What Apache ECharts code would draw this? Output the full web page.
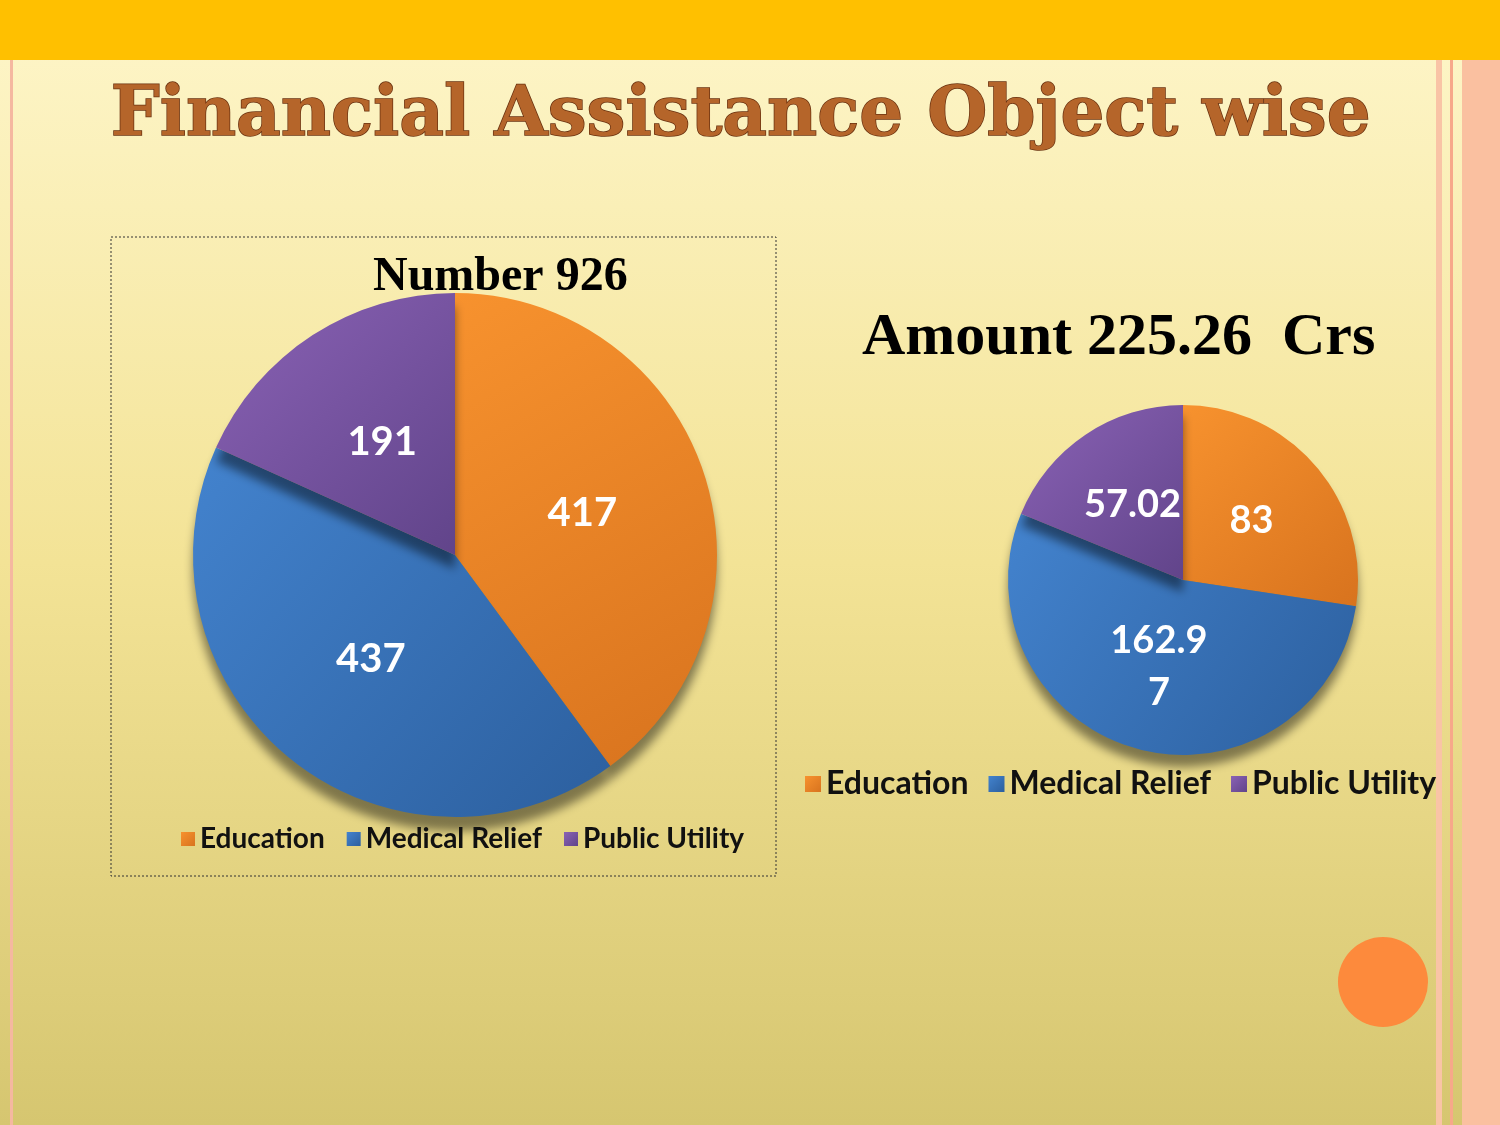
<!DOCTYPE html>
<html><head><meta charset="utf-8">
<script src="https://cdn.jsdelivr.net/npm/echarts@6/dist/echarts.min.js"></script>
<style>html,body{margin:0;padding:0}#c{width:1500px;height:1125px}</style>
</head><body><div id="c"></div>
<script>
const categories = ['Education', 'Medical Relief', 'Public Utility'];
const numberValues = [417, 437, 191];
const amountValues = [83, 162.97, 57.02];
const colors = [['#F7922E','#D8731E'], ['#4383CE','#2C5F9E'], ['#8A62B5','#61448A']];
function grad(i){return new echarts.graphic.LinearGradient(0,0,1,1,[{offset:0,color:colors[i][0]},{offset:1,color:colors[i][1]}]);}
const chart = echarts.init(document.getElementById('c'));
function data(vals){return categories.map((n,i)=>({name:n,value:vals[i],itemStyle:{color:grad(i)}}));}
const lab = {show:true,position:'inside',formatter:'{c}',color:'#fff',fontFamily:'Lato',fontWeight:'bold',fontSize:40};
chart.setOption({
  backgroundColor:'#F6EBA8',
  graphic:[
    {type:'rect',z:-10,shape:{x:0,y:0,width:1500,height:1125},style:{fill:new echarts.graphic.LinearGradient(0,0,0,1,[{offset:0,color:'#FEF6CA'},{offset:0.5,color:'#F3E396'},{offset:1,color:'#D6C670'}])}},
    {type:'rect',z:-9,shape:{x:0,y:0,width:1500,height:60},style:{fill:'#FFC000'}},
    {type:'rect',z:-9,shape:{x:1462,y:60,width:38,height:1065},style:{fill:'#FAC0A0'}},
    {type:'rect',z:-9,shape:{x:1436,y:60,width:6,height:1065},style:{fill:'#F9C4A6'}},
    {type:'rect',z:-9,shape:{x:1450,y:60,width:3,height:1065},style:{fill:'#F7A88A'}},
    {type:'rect',z:-9,shape:{x:10,y:60,width:3,height:1065},style:{fill:'#F5B8A0'}},
    {type:'rect',z:-8,shape:{x:111,y:237,width:665,height:639},style:{fill:'none',stroke:'#333',lineWidth:1,lineDash:[2,2]}},
    {type:'text',left:110,top:82,style:{text:'Financial Assistance Object wise',font:'bold 69px "DejaVu Serif"',fill:'#B5652A',stroke:'#6A3210',lineWidth:1.5,shadowColor:'rgba(0,0,0,0.5)',shadowBlur:4,shadowOffsetX:3,shadowOffsetY:3}},
    {type:'text',left:373,top:254,style:{text:'Number 926',font:'bold 48px "Liberation Serif"',fill:'#000'}},
    {type:'text',left:862,top:308,style:{text:'Amount 225.26  Crs',font:'bold 60px "Liberation Serif"',fill:'#000'}},
    {type:'circle',shape:{cx:1383,cy:982,r:45},style:{fill:'#FD8A3C'}}
  ],
  legend:[
    {data:categories,left:176,top:820,itemWidth:14,itemHeight:14,itemGap:22,icon:'rect',textStyle:{fontFamily:'Lato',fontWeight:'bold',fontSize:28,color:'#111'}},
    {data:categories,left:800,top:763,itemWidth:16,itemHeight:16,itemGap:20,icon:'rect',textStyle:{fontFamily:'Lato',fontWeight:'bold',fontSize:32,color:'#111'}}
  ],
  series:[
    {type:'pie',center:[455,555],radius:262,startAngle:90,data:data(numberValues),label:lab,labelLine:{show:false},
     itemStyle:{shadowColor:'rgba(0,0,0,0.45)',shadowBlur:10,shadowOffsetY:14}},
    {type:'pie',center:[1183,580],radius:175,startAngle:90,data:data(amountValues),
     label:Object.assign({},lab,{fontSize:38,width:100,overflow:'breakAll',lineHeight:52}),labelLine:{show:false},
     itemStyle:{shadowColor:'rgba(0,0,0,0.45)',shadowBlur:10,shadowOffsetY:12}}
  ]
});
</script></body></html>
